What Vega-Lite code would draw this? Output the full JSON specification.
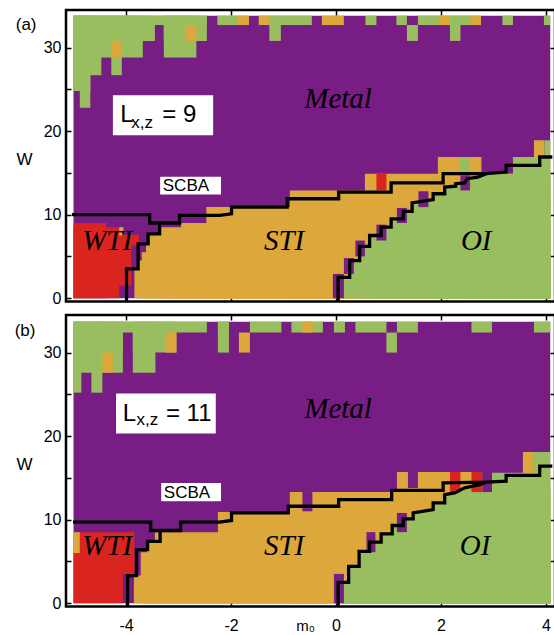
{
  "$schema": "https://vega.github.io/schema/vega-lite/v6.json",
  "autosize": {"type": "pad"},
  "padding": {"left": 13, "top": 8, "right": 0, "bottom": 0},
  "background": "white",
  "spacing": 13,
  "bounds": "flush",
  "config": {
    "view": {"stroke": "#000", "strokeWidth": 2.5},
    "axis": {"domain": false, "grid": false, "tickColor": "#000", "tickWidth": 1.5, "labelFont": "Liberation Sans", "labelFontSize": 16, "labelColor": "#000", "titleFont": "Liberation Sans", "titleFontSize": 17, "titleFontWeight": "normal", "titleColor": "#000"}
  },
  "datasets": {
    "ra": [
      {"c":"M","x1":-5.0,"x2":4.08,"y1":0,"y2":33.8},
      {"c":"O","x1":-5.0,"x2":-2.46,"y1":32.7,"y2":33.8},
      {"c":"O","x1":-2.26,"x2":-1.66,"y1":32.7,"y2":33.8},
      {"c":"O","x1":-1.47,"x2":-0.46,"y1":32.7,"y2":33.8},
      {"c":"O","x1":0.56,"x2":0.77,"y1":32.7,"y2":33.8},
      {"c":"O","x1":1.15,"x2":1.35,"y1":32.7,"y2":33.8},
      {"c":"O","x1":1.56,"x2":2.76,"y1":32.7,"y2":33.8},
      {"c":"O","x1":3.17,"x2":3.37,"y1":32.7,"y2":33.8},
      {"c":"O","x1":3.96,"x2":4.08,"y1":32.7,"y2":33.8},
      {"c":"O","x1":-5.0,"x2":-3.45,"y1":30.8,"y2":33.8},
      {"c":"O","x1":-3.28,"x2":-2.46,"y1":30.8,"y2":33.8},
      {"c":"O","x1":-1.27,"x2":-1.05,"y1":30.8,"y2":33.8},
      {"c":"O","x1":1.35,"x2":1.56,"y1":30.8,"y2":32.7},
      {"c":"O","x1":2.17,"x2":2.37,"y1":30.8,"y2":33.8},
      {"c":"O","x1":-5.0,"x2":-3.68,"y1":28.8,"y2":33.8},
      {"c":"O","x1":-3.28,"x2":-2.66,"y1":28.8,"y2":33.8},
      {"c":"O","x1":-5.0,"x2":-4.47,"y1":26.7,"y2":33.8},
      {"c":"O","x1":-4.28,"x2":-4.08,"y1":26.7,"y2":33.8},
      {"c":"O","x1":-5.0,"x2":-4.68,"y1":24.8,"y2":33.8},
      {"c":"O","x1":-4.88,"x2":-4.68,"y1":22.8,"y2":33.8},
      {"c":"S","x1":-4.28,"x2":-4.08,"y1":28.8,"y2":30.8},
      {"c":"S","x1":-2.87,"x2":-2.66,"y1":30.8,"y2":32.7},
      {"c":"S","x1":-1.87,"x2":-1.66,"y1":32.7,"y2":33.8},
      {"c":"S","x1":-1.47,"x2":-1.27,"y1":32.7,"y2":33.8},
      {"c":"S","x1":-0.27,"x2":0.15,"y1":32.7,"y2":33.8},
      {"c":"S","x1":1.96,"x2":2.17,"y1":32.7,"y2":33.8},
      {"c":"S","x1":2.56,"x2":2.76,"y1":32.7,"y2":33.8},
      {"c":"S","x1":-3.84,"x2":4.08,"y1":0,"y2":3.5},
      {"c":"S","x1":-3.75,"x2":4.08,"y1":0,"y2":4.5},
      {"c":"S","x1":-3.70,"x2":4.08,"y1":0,"y2":5.5},
      {"c":"S","x1":-3.62,"x2":4.08,"y1":0,"y2":6.5},
      {"c":"S","x1":-3.55,"x2":4.08,"y1":0,"y2":7.7},
      {"c":"S","x1":-3.35,"x2":4.08,"y1":0,"y2":8.5},
      {"c":"S","x1":-2.95,"x2":4.08,"y1":0,"y2":9.0},
      {"c":"S","x1":-2.47,"x2":4.08,"y1":0,"y2":10.9},
      {"c":"S","x1":-0.88,"x2":4.08,"y1":0,"y2":12.9},
      {"c":"S","x1":0.55,"x2":4.08,"y1":0,"y2":14.9},
      {"c":"S","x1":1.94,"x2":2.77,"y1":0,"y2":16.9},
      {"c":"S","x1":3.77,"x2":3.97,"y1":0,"y2":18.9},
      {"c":"O","x1":0.04,"x2":4.08,"y1":0,"y2":2.5},
      {"c":"O","x1":0.26,"x2":4.08,"y1":0,"y2":4.5},
      {"c":"O","x1":0.45,"x2":4.08,"y1":0,"y2":6.2},
      {"c":"O","x1":0.64,"x2":4.08,"y1":0,"y2":7.5},
      {"c":"O","x1":0.86,"x2":4.08,"y1":0,"y2":8.5},
      {"c":"O","x1":1.05,"x2":4.08,"y1":0,"y2":9.5},
      {"c":"O","x1":1.28,"x2":4.08,"y1":0,"y2":10.4},
      {"c":"O","x1":1.45,"x2":4.08,"y1":0,"y2":11.5},
      {"c":"O","x1":1.85,"x2":4.08,"y1":0,"y2":12.5},
      {"c":"O","x1":2.07,"x2":4.08,"y1":0,"y2":13.4},
      {"c":"O","x1":2.30,"x2":4.08,"y1":0,"y2":13.9},
      {"c":"O","x1":2.48,"x2":4.08,"y1":0,"y2":14.4},
      {"c":"O","x1":2.65,"x2":4.08,"y1":0,"y2":14.9},
      {"c":"O","x1":3.37,"x2":4.08,"y1":0,"y2":16.9},
      {"c":"O","x1":3.97,"x2":4.08,"y1":0,"y2":18.9},
      {"c":"O","x1":2.35,"x2":2.55,"y1":14.9,"y2":16.9},
      {"c":"W","x1":-5.0,"x2":-4.13,"y1":0,"y2":8.5},
      {"c":"W","x1":-5.0,"x2":-4.38,"y1":0,"y2":9.0},
      {"c":"W","x1":-4.2,"x2":-3.9,"y1":1.5,"y2":7.6},
      {"c":"W","x1":-4.0,"x2":-3.75,"y1":6.3,"y2":7.6},
      {"c":"S","x1":-4.13,"x2":-4.05,"y1":7.5,"y2":8.5},
      {"c":"W","x1":0.77,"x2":0.96,"y1":12.9,"y2":14.9},
      {"c":"M","x1":-0.06,"x2":0.15,"y1":0,"y2":2.9},
      {"c":"M","x1":0.15,"x2":0.34,"y1":2.9,"y2":4.8},
      {"c":"M","x1":0.37,"x2":0.55,"y1":5.0,"y2":6.9},
      {"c":"M","x1":0.77,"x2":0.96,"y1":6.9,"y2":8.8},
      {"c":"M","x1":1.16,"x2":1.35,"y1":9.0,"y2":10.8},
      {"c":"M","x1":1.57,"x2":1.76,"y1":10.9,"y2":12.8},
      {"c":"M","x1":2.37,"x2":2.55,"y1":12.9,"y2":14.7},
      {"c":"M","x1":3.23,"x2":3.37,"y1":15.0,"y2":16.1},
      {"c":"B","x1":-4.25,"x2":-2.34,"y1":19.5,"y2":24.3},
      {"c":"B","x1":-3.35,"x2":-2.19,"y1":12.4,"y2":14.55}
    ],
    "rb": [
      {"c":"M","x1":-5.0,"x2":4.08,"y1":0,"y2":33.7},
      {"c":"O","x1":-5.0,"x2":-2.46,"y1":32.4,"y2":33.7},
      {"c":"O","x1":-2.25,"x2":-2.04,"y1":32.4,"y2":33.7},
      {"c":"O","x1":-1.64,"x2":-1.04,"y1":32.4,"y2":33.7},
      {"c":"O","x1":-0.85,"x2":-0.25,"y1":32.4,"y2":33.7},
      {"c":"O","x1":-0.04,"x2":0.17,"y1":32.4,"y2":33.7},
      {"c":"O","x1":0.37,"x2":0.96,"y1":32.4,"y2":33.7},
      {"c":"O","x1":1.16,"x2":1.56,"y1":32.4,"y2":33.7},
      {"c":"O","x1":2.58,"x2":2.97,"y1":32.4,"y2":33.7},
      {"c":"O","x1":3.77,"x2":4.08,"y1":32.4,"y2":33.7},
      {"c":"O","x1":-5.0,"x2":-4.06,"y1":30.0,"y2":33.7},
      {"c":"O","x1":-3.87,"x2":-3.04,"y1":30.0,"y2":33.7},
      {"c":"O","x1":-2.25,"x2":-2.04,"y1":30.0,"y2":33.7},
      {"c":"O","x1":0.96,"x2":1.16,"y1":30.0,"y2":32.4},
      {"c":"O","x1":-5.0,"x2":-4.06,"y1":27.6,"y2":33.7},
      {"c":"O","x1":-3.87,"x2":-3.44,"y1":27.6,"y2":33.7},
      {"c":"O","x1":-5.0,"x2":-4.85,"y1":25.2,"y2":33.7},
      {"c":"O","x1":-4.66,"x2":-4.45,"y1":25.2,"y2":33.7},
      {"c":"S","x1":-4.45,"x2":-4.25,"y1":27.6,"y2":30.0},
      {"c":"S","x1":-3.25,"x2":-3.04,"y1":30.0,"y2":32.4},
      {"c":"S","x1":-1.85,"x2":-1.64,"y1":30.0,"y2":32.4},
      {"c":"S","x1":-0.64,"x2":-0.44,"y1":32.4,"y2":33.7},
      {"c":"S","x1":-3.85,"x2":4.08,"y1":0,"y2":3.3},
      {"c":"S","x1":-3.72,"x2":4.08,"y1":0,"y2":6.1},
      {"c":"S","x1":-3.60,"x2":4.08,"y1":0,"y2":7.3},
      {"c":"S","x1":-3.45,"x2":4.08,"y1":0,"y2":8.5},
      {"c":"S","x1":-2.25,"x2":4.08,"y1":0,"y2":10.9},
      {"c":"S","x1":-0.88,"x2":4.08,"y1":0,"y2":13.3},
      {"c":"S","x1":1.16,"x2":2.79,"y1":0,"y2":13.8},
      {"c":"S","x1":1.16,"x2":1.37,"y1":0,"y2":15.7},
      {"c":"S","x1":1.56,"x2":2.79,"y1":0,"y2":15.7},
      {"c":"S","x1":3.56,"x2":3.77,"y1":0,"y2":18.1},
      {"c":"M","x1":-0.64,"x2":-0.45,"y1":11.0,"y2":13.3},
      {"c":"O","x1":0.04,"x2":4.08,"y1":0,"y2":2.5},
      {"c":"O","x1":0.24,"x2":4.08,"y1":0,"y2":4.4},
      {"c":"O","x1":0.44,"x2":4.08,"y1":0,"y2":6.2},
      {"c":"O","x1":0.64,"x2":4.08,"y1":0,"y2":7.3},
      {"c":"O","x1":0.86,"x2":4.08,"y1":0,"y2":8.3},
      {"c":"O","x1":1.07,"x2":4.08,"y1":0,"y2":9.3},
      {"c":"O","x1":1.28,"x2":4.08,"y1":0,"y2":10.1},
      {"c":"O","x1":1.47,"x2":4.08,"y1":0,"y2":11.0},
      {"c":"O","x1":1.85,"x2":4.08,"y1":0,"y2":12.0},
      {"c":"O","x1":2.07,"x2":4.08,"y1":0,"y2":13.0},
      {"c":"O","x1":2.26,"x2":4.08,"y1":0,"y2":13.3},
      {"c":"O","x1":2.45,"x2":4.08,"y1":0,"y2":13.8},
      {"c":"O","x1":2.74,"x2":4.08,"y1":0,"y2":14.2},
      {"c":"O","x1":2.97,"x2":4.08,"y1":0,"y2":15.6},
      {"c":"O","x1":3.77,"x2":4.08,"y1":0,"y2":18.1},
      {"c":"W","x1":-5.0,"x2":-4.06,"y1":0,"y2":6.1},
      {"c":"W","x1":-4.88,"x2":-3.84,"y1":3.5,"y2":8.5},
      {"c":"S","x1":-5.0,"x2":-4.88,"y1":6.0,"y2":8.5},
      {"c":"W","x1":2.17,"x2":2.37,"y1":13.3,"y2":15.7},
      {"c":"W","x1":2.58,"x2":2.79,"y1":13.3,"y2":15.7},
      {"c":"M","x1":-0.04,"x2":0.15,"y1":0,"y2":3.5},
      {"c":"M","x1":0.58,"x2":0.75,"y1":6.1,"y2":8.5},
      {"c":"M","x1":1.16,"x2":1.35,"y1":8.5,"y2":10.8},
      {"c":"M","x1":2.79,"x2":2.97,"y1":13.3,"y2":15.7},
      {"c":"B","x1":-4.19,"x2":-2.29,"y1":20.3,"y2":25.1},
      {"c":"B","x1":-3.33,"x2":-2.19,"y1":12.2,"y2":14.4}
    ],
    "la": [
      {"id":1,"o":1,"x":-5.03,"y":10.0},{"id":1,"o":2,"x":-3.55,"y":10.0},{"id":1,"o":3,"x":-3.55,"y":9.0},{"id":1,"o":4,"x":-2.98,"y":9.0},{"id":1,"o":5,"x":-2.98,"y":9.9},{"id":1,"o":6,"x":-2.22,"y":9.9},{"id":1,"o":7,"x":-1.99,"y":10.1},{"id":1,"o":8,"x":-1.99,"y":10.9},{"id":1,"o":9,"x":-0.93,"y":10.9},{"id":1,"o":10,"x":-0.93,"y":11.9},{"id":1,"o":11,"x":0.05,"y":11.9},{"id":1,"o":12,"x":0.05,"y":12.7},{"id":1,"o":13,"x":1.05,"y":12.7},{"id":1,"o":14,"x":1.05,"y":13.8},{"id":1,"o":15,"x":2.04,"y":13.8},{"id":1,"o":16,"x":2.04,"y":14.9},{"id":1,"o":17,"x":2.86,"y":14.9},{"id":1,"o":18,"x":3.24,"y":15.1},{"id":1,"o":19,"x":3.24,"y":15.9},{"id":1,"o":20,"x":3.88,"y":15.9},{"id":1,"o":21,"x":3.88,"y":16.9},{"id":1,"o":22,"x":4.12,"y":16.9},
      {"id":2,"o":1,"x":-3.36,"y":9.0},{"id":2,"o":2,"x":-3.36,"y":7.7},{"id":2,"o":3,"x":-3.58,"y":7.7},{"id":2,"o":4,"x":-3.58,"y":6.5},{"id":2,"o":5,"x":-3.77,"y":6.5},{"id":2,"o":6,"x":-3.77,"y":3.5},{"id":2,"o":7,"x":-3.99,"y":3.5},{"id":2,"o":8,"x":-3.99,"y":-0.4},
      {"id":3,"o":1,"x":0.04,"y":-0.4},{"id":3,"o":2,"x":0.04,"y":2.5},{"id":3,"o":3,"x":0.26,"y":2.5},{"id":3,"o":4,"x":0.26,"y":4.5},{"id":3,"o":5,"x":0.45,"y":4.5},{"id":3,"o":6,"x":0.45,"y":6.2},{"id":3,"o":7,"x":0.64,"y":6.2},{"id":3,"o":8,"x":0.64,"y":7.5},{"id":3,"o":9,"x":0.86,"y":7.5},{"id":3,"o":10,"x":0.86,"y":8.5},{"id":3,"o":11,"x":1.05,"y":8.5},{"id":3,"o":12,"x":1.05,"y":9.5},{"id":3,"o":13,"x":1.28,"y":9.5},{"id":3,"o":14,"x":1.28,"y":10.4},{"id":3,"o":15,"x":1.45,"y":10.4},{"id":3,"o":16,"x":1.45,"y":11.4},{"id":3,"o":17,"x":1.85,"y":11.8},{"id":3,"o":18,"x":1.85,"y":12.5},{"id":3,"o":19,"x":2.07,"y":12.5},{"id":3,"o":20,"x":2.07,"y":13.3},{"id":3,"o":21,"x":2.28,"y":13.4},{"id":3,"o":22,"x":2.28,"y":13.7},{"id":3,"o":23,"x":2.45,"y":13.8},{"id":3,"o":24,"x":2.5,"y":14.3},{"id":3,"o":25,"x":2.7,"y":14.5},{"id":3,"o":26,"x":2.86,"y":14.9}
    ],
    "lb": [
      {"id":1,"o":1,"x":-5.01,"y":9.7},{"id":1,"o":2,"x":-3.53,"y":9.7},{"id":1,"o":3,"x":-3.53,"y":8.7},{"id":1,"o":4,"x":-2.96,"y":8.7},{"id":1,"o":5,"x":-2.96,"y":9.7},{"id":1,"o":6,"x":-2.22,"y":9.7},{"id":1,"o":7,"x":-1.99,"y":9.9},{"id":1,"o":8,"x":-1.99,"y":10.8},{"id":1,"o":9,"x":-0.91,"y":10.8},{"id":1,"o":10,"x":-0.91,"y":11.6},{"id":1,"o":11,"x":0.05,"y":11.6},{"id":1,"o":12,"x":0.05,"y":12.4},{"id":1,"o":13,"x":1.06,"y":12.4},{"id":1,"o":14,"x":1.06,"y":13.5},{"id":1,"o":15,"x":2.04,"y":13.5},{"id":1,"o":16,"x":2.04,"y":14.4},{"id":1,"o":17,"x":2.86,"y":14.5},{"id":1,"o":18,"x":3.24,"y":14.6},{"id":1,"o":19,"x":3.24,"y":15.3},{"id":1,"o":20,"x":3.88,"y":15.3},{"id":1,"o":21,"x":3.88,"y":16.4},{"id":1,"o":22,"x":4.12,"y":16.4},
      {"id":2,"o":1,"x":-3.35,"y":8.7},{"id":2,"o":2,"x":-3.35,"y":7.4},{"id":2,"o":3,"x":-3.59,"y":7.4},{"id":2,"o":4,"x":-3.59,"y":6.4},{"id":2,"o":5,"x":-3.80,"y":6.4},{"id":2,"o":6,"x":-3.80,"y":3.3},{"id":2,"o":7,"x":-3.97,"y":3.3},{"id":2,"o":8,"x":-3.97,"y":-0.4},
      {"id":3,"o":1,"x":0.04,"y":-0.4},{"id":3,"o":2,"x":0.04,"y":2.5},{"id":3,"o":3,"x":0.24,"y":2.5},{"id":3,"o":4,"x":0.24,"y":4.4},{"id":3,"o":5,"x":0.44,"y":4.4},{"id":3,"o":6,"x":0.44,"y":6.2},{"id":3,"o":7,"x":0.64,"y":6.2},{"id":3,"o":8,"x":0.64,"y":7.3},{"id":3,"o":9,"x":0.86,"y":7.3},{"id":3,"o":10,"x":0.86,"y":8.3},{"id":3,"o":11,"x":1.07,"y":8.3},{"id":3,"o":12,"x":1.07,"y":9.3},{"id":3,"o":13,"x":1.28,"y":9.3},{"id":3,"o":14,"x":1.28,"y":10.1},{"id":3,"o":15,"x":1.47,"y":10.1},{"id":3,"o":16,"x":1.47,"y":10.8},{"id":3,"o":17,"x":1.85,"y":11.2},{"id":3,"o":18,"x":1.85,"y":12.0},{"id":3,"o":19,"x":2.07,"y":12.0},{"id":3,"o":20,"x":2.07,"y":13.0},{"id":3,"o":21,"x":2.26,"y":13.2},{"id":3,"o":22,"x":2.45,"y":13.8},{"id":3,"o":23,"x":2.74,"y":14.2},{"id":3,"o":24,"x":2.86,"y":14.5}
    ],
    "ta": [
      {"k":"serif","x":0.04,"y":23.9,"t":"Metal"},
      {"k":"serif","x":-4.36,"y":6.9,"t":"WTI"},
      {"k":"serif","x":-0.99,"y":6.9,"t":"STI"},
      {"k":"serif","x":2.67,"y":6.9,"t":"OI"},
      {"k":"big","x":-4.11,"y":21.1,"t":"L"},
      {"k":"big","x":-3.31,"y":21.1,"t":"= 9"},
      {"k":"small","x":-3.90,"y":20.4,"t":"x,z"},
      {"k":"small","x":-3.30,"y":12.8,"t":"SCBA"},
      {"k":"small","x":-6.10,"y":32.05,"t":"(a)"}
    ],
    "tb": [
      {"k":"serif","x":0.04,"y":23.2,"t":"Metal"},
      {"k":"serif","x":-4.36,"y":6.9,"t":"WTI"},
      {"k":"serif","x":-0.99,"y":6.9,"t":"STI"},
      {"k":"serif","x":2.65,"y":6.9,"t":"OI"},
      {"k":"big","x":-4.06,"y":21.8,"t":"L"},
      {"k":"big","x":-3.24,"y":21.8,"t":"= 11"},
      {"k":"small","x":-3.80,"y":21.3,"t":"x,z"},
      {"k":"small","x":-3.28,"y":12.6,"t":"SCBA"},
      {"k":"small","x":-6.12,"y":32.0,"t":"(b)"}
    ]
  },
  "vconcat": [
    {
      "width": 489, "height": 291.5,
      "resolve": {"axis": {"x": "independent", "y": "independent"}},
      "layer": [
        {
          "data": {"name": "ra"},
          "mark": {"type": "rect", "strokeWidth": 0},
          "encoding": {
            "x": {"field": "x1", "type": "quantitative", "scale": {"domain": [-5.143, 4.171], "nice": false, "zero": false}, "axis": {"orient": "bottom", "values": [-4, -2, 0, 2, 4], "labels": false, "title": null, "tickSize": -5}},
            "x2": {"field": "x2"},
            "y": {"field": "y1", "type": "quantitative", "scale": {"domain": [-0.4, 34.5], "nice": false, "zero": false}, "axis": {"orient": "left", "values": [0, 5, 10, 15, 20, 25, 30], "labelExpr": "datum.value % 10 === 0 ? datum.label : ''", "tickSize": -5, "labelPadding": 10, "title": "W", "titleAngle": 0, "titleX": -42, "titleY": 149.5, "titleAlign": "center", "titleBaseline": "middle"}},
            "y2": {"field": "y2"},
            "fill": {"field": "c", "type": "nominal", "scale": {"domain": ["M", "S", "O", "W", "B"], "range": ["#771d84", "#dca73b", "#99be60", "#da2420", "#ffffff"]}, "legend": null}
          }
        },
        {
          "data": {"name": "la"},
          "mark": {"type": "line", "color": "#000", "strokeWidth": 3.3, "strokeCap": "butt"},
          "encoding": {
            "x": {"field": "x", "type": "quantitative", "scale": {"domain": [-5.143, 4.171], "nice": false, "zero": false}, "axis": {"orient": "top", "values": [-4, -2, 0, 2, 4], "labels": false, "title": null, "tickSize": -5}},
            "y": {"field": "y", "type": "quantitative", "scale": {"domain": [-0.4, 34.5], "nice": false, "zero": false}, "axis": {"orient": "right", "values": [5, 10, 15, 20, 25, 30], "labels": false, "title": null, "tickSize": -5}},
            "detail": {"field": "id", "type": "nominal"},
            "order": {"field": "o", "type": "quantitative"}
          }
        },
        {
          "data": {"name": "ta"},
          "transform": [{"filter": "datum.k === 'serif'"}],
          "mark": {"type": "text", "font": "Liberation Serif", "fontStyle": "italic", "fontSize": 29, "color": "#000", "align": "center", "baseline": "middle"},
          "encoding": {"x": {"field": "x", "type": "quantitative", "axis": null}, "y": {"field": "y", "type": "quantitative", "axis": null}, "text": {"field": "t"}}
        },
        {
          "data": {"name": "ta"},
          "transform": [{"filter": "datum.k === 'big'"}],
          "mark": {"type": "text", "font": "Liberation Sans", "fontSize": 24, "color": "#000", "align": "left", "baseline": "alphabetic"},
          "encoding": {"x": {"field": "x", "type": "quantitative", "axis": null}, "y": {"field": "y", "type": "quantitative", "axis": null}, "text": {"field": "t"}}
        },
        {
          "data": {"name": "ta"},
          "transform": [{"filter": "datum.k === 'small'"}],
          "mark": {"type": "text", "font": "Liberation Sans", "fontSize": 17, "color": "#000", "align": "left", "baseline": "alphabetic"},
          "encoding": {"x": {"field": "x", "type": "quantitative", "axis": null}, "y": {"field": "y", "type": "quantitative", "axis": null}, "text": {"field": "t"}}
        }
      ]
    },
    {
      "width": 489, "height": 291.5,
      "resolve": {"axis": {"x": "independent", "y": "independent"}},
      "layer": [
        {
          "data": {"name": "rb"},
          "mark": {"type": "rect", "strokeWidth": 0},
          "encoding": {
            "x": {"field": "x1", "type": "quantitative", "scale": {"domain": [-5.143, 4.171], "nice": false, "zero": false}, "axis": {"orient": "bottom", "values": [-4, -2, 0, 2, 4], "labels": true, "labelExpr": "datum.value < 0 ? '-' + abs(datum.value) : '' + datum.value", "tickSize": -5, "labelPadding": 16, "title": "m₀", "titleX": 239, "titleY": 12, "titleBaseline": "top", "titleAlign": "center", "titleFontSize": 15}},
            "x2": {"field": "x2"},
            "y": {"field": "y1", "type": "quantitative", "scale": {"domain": [-0.4, 34.5], "nice": false, "zero": false}, "axis": {"orient": "left", "values": [0, 5, 10, 15, 20, 25, 30], "labelExpr": "datum.value % 10 === 0 ? datum.label : ''", "tickSize": -5, "labelPadding": 10, "title": "W", "titleAngle": 0, "titleX": -42, "titleY": 149.5, "titleAlign": "center", "titleBaseline": "middle"}},
            "y2": {"field": "y2"},
            "fill": {"field": "c", "type": "nominal", "scale": {"domain": ["M", "S", "O", "W", "B"], "range": ["#771d84", "#dca73b", "#99be60", "#da2420", "#ffffff"]}, "legend": null}
          }
        },
        {
          "data": {"name": "lb"},
          "mark": {"type": "line", "color": "#000", "strokeWidth": 3.3, "strokeCap": "butt"},
          "encoding": {
            "x": {"field": "x", "type": "quantitative", "scale": {"domain": [-5.143, 4.171], "nice": false, "zero": false}, "axis": {"orient": "top", "values": [-4, -2, 0, 2, 4], "labels": false, "title": null, "tickSize": -5}},
            "y": {"field": "y", "type": "quantitative", "scale": {"domain": [-0.4, 34.5], "nice": false, "zero": false}, "axis": {"orient": "right", "values": [5, 10, 15, 20, 25, 30], "labels": false, "title": null, "tickSize": -5}},
            "detail": {"field": "id", "type": "nominal"},
            "order": {"field": "o", "type": "quantitative"}
          }
        },
        {
          "data": {"name": "tb"},
          "transform": [{"filter": "datum.k === 'serif'"}],
          "mark": {"type": "text", "font": "Liberation Serif", "fontStyle": "italic", "fontSize": 29, "color": "#000", "align": "center", "baseline": "middle"},
          "encoding": {"x": {"field": "x", "type": "quantitative", "axis": null}, "y": {"field": "y", "type": "quantitative", "axis": null}, "text": {"field": "t"}}
        },
        {
          "data": {"name": "tb"},
          "transform": [{"filter": "datum.k === 'big'"}],
          "mark": {"type": "text", "font": "Liberation Sans", "fontSize": 24, "color": "#000", "align": "left", "baseline": "alphabetic"},
          "encoding": {"x": {"field": "x", "type": "quantitative", "axis": null}, "y": {"field": "y", "type": "quantitative", "axis": null}, "text": {"field": "t"}}
        },
        {
          "data": {"name": "tb"},
          "transform": [{"filter": "datum.k === 'small'"}],
          "mark": {"type": "text", "font": "Liberation Sans", "fontSize": 17, "color": "#000", "align": "left", "baseline": "alphabetic"},
          "encoding": {"x": {"field": "x", "type": "quantitative", "axis": null}, "y": {"field": "y", "type": "quantitative", "axis": null}, "text": {"field": "t"}}
        }
      ]
    }
  ]
}
